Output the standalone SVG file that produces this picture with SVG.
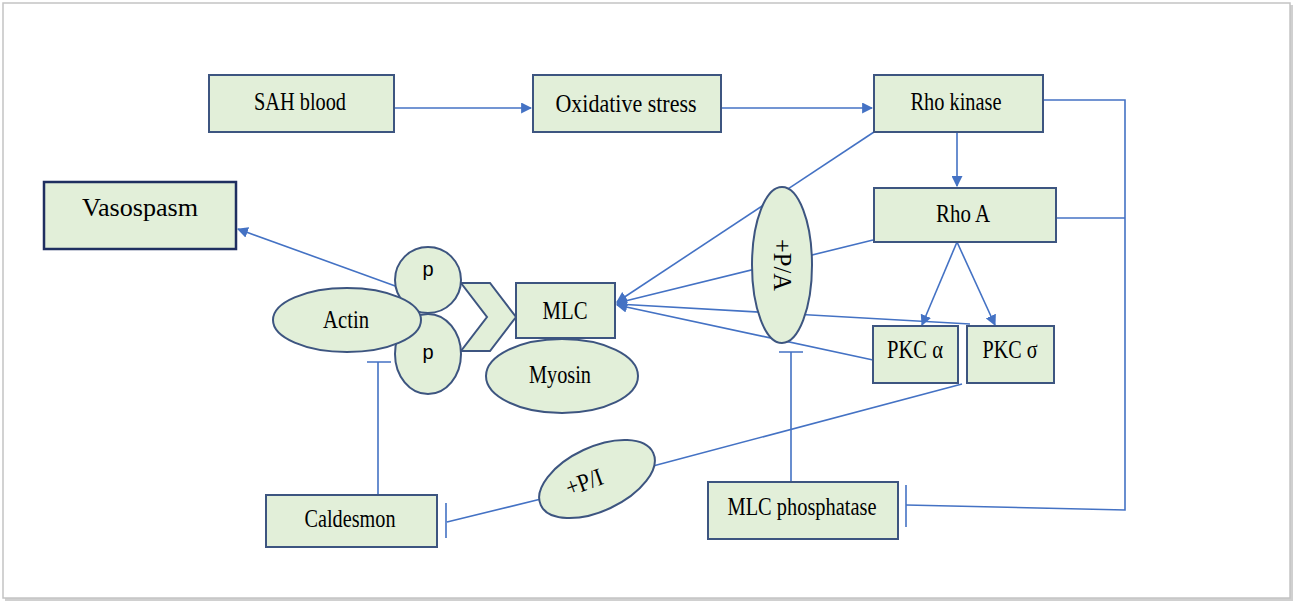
<svg xmlns="http://www.w3.org/2000/svg" width="1296" height="603" viewBox="0 0 1296 603">
<defs>
<style>
.box{fill:#e2efd9;stroke:#3d5580;stroke-width:2}
.ell{fill:#e2efd9;stroke:#3d5580;stroke-width:2}
.t{font-family:"Liberation Serif","Times New Roman",serif;font-size:25px;fill:#000;text-anchor:middle}
.ts{font-family:"Liberation Sans",Arial,sans-serif;font-size:20px;fill:#000;text-anchor:middle}
.c{fill:none;stroke:#4472c4;stroke-width:1.6}
</style>
<marker id="ah" viewBox="0 0 10 10" refX="9" refY="5" markerWidth="11" markerHeight="11" markerUnits="userSpaceOnUse" orient="auto">
<path d="M0,0 L10,5 L0,10 z" fill="#4472c4"/>
</marker>
</defs>
<rect x="0" y="0" width="1296" height="603" fill="#ffffff"/>
<rect x="5" y="5" width="1288" height="596" fill="#d0d0d0"/>
<rect x="3" y="3" width="1287" height="595" fill="#ffffff" stroke="#c4c4c4" stroke-width="1.5"/>

<g id="connectors">
<path class="c" d="M394,108 L531,108" marker-end="url(#ah)"/>
<path class="c" d="M721,108 L872,108" marker-end="url(#ah)"/>
<path class="c" d="M957,132 L957,186" marker-end="url(#ah)"/>
<path class="c" d="M957,242 L922,325" marker-end="url(#ah)"/>
<path class="c" d="M957,242 L995,325" marker-end="url(#ah)"/>
<path class="c" d="M874,132 L617,302" marker-end="url(#ah)"/>
<path class="c" d="M873,240 L617,303" marker-end="url(#ah)"/>
<path class="c" d="M970,324 L617,304" marker-end="url(#ah)"/>
<path class="c" d="M873,360 L617,305" marker-end="url(#ah)"/>
<path class="c" d="M398,287 L238,229" marker-end="url(#ah)"/>
<path class="c" d="M1043,100 L1125,100 L1125,510 L906,505"/>
<path class="c" d="M1057,218 L1125,218"/>
<path class="c" d="M906,485 L906,527"/>
<path class="c" d="M378,495 L378,362 M367,362 L391,362"/>
<path class="c" d="M541,499 L447,522 M446,503 L446,538"/>
<path class="c" d="M962,384 L653,466"/>
<path class="c" d="M791,482 L791,352 M779,352 L803,352"/>
</g>

<g id="sah"><rect class="box" x="209" y="75" width="185" height="57"/><text class="t" x="300" y="110" textLength="92" lengthAdjust="spacingAndGlyphs">SAH blood</text></g>
<g id="oxidative"><rect class="box" x="533" y="75" width="188" height="57"/><text class="t" x="626" y="112" textLength="141" lengthAdjust="spacingAndGlyphs">Oxidative stress</text></g>
<g id="rhokinase"><rect class="box" x="874" y="75" width="169" height="57"/><text class="t" x="956" y="110" textLength="91" lengthAdjust="spacingAndGlyphs">Rho kinase</text></g>
<g id="rhoa"><rect class="box" x="874" y="188" width="182" height="54"/><text class="t" x="963" y="222" textLength="54" lengthAdjust="spacingAndGlyphs">Rho A</text></g>
<g id="vasospasm"><rect x="44" y="182" width="192" height="67" fill="#e2efd9" stroke="#1f2f60" stroke-width="2.5"/><text class="t" x="140" y="216" textLength="116" lengthAdjust="spacingAndGlyphs">Vasospasm</text></g>
<g id="chevron"><polygon points="461,283 490,283 516,317 490,351 461,351 487,317" fill="#e2efd9" stroke="#3d5580" stroke-width="2"/></g>
<g id="mlc"><rect class="box" x="516" y="283" width="99" height="55"/><text class="t" x="565" y="319" textLength="45" lengthAdjust="spacingAndGlyphs">MLC</text></g>
<g id="myosin"><ellipse class="ell" cx="562" cy="376" rx="76" ry="37"/><text class="t" x="560" y="383" textLength="62" lengthAdjust="spacingAndGlyphs">Myosin</text></g>
<g id="p1"><ellipse class="ell" cx="428" cy="280" rx="33" ry="33"/><text class="ts" x="428" y="276">p</text></g>
<g id="p2"><ellipse class="ell" cx="428" cy="354" rx="33" ry="40"/><text class="ts" x="428" y="359">p</text></g>
<g id="actin"><ellipse class="ell" cx="347" cy="320" rx="74" ry="32"/><text class="t" x="346" y="328" textLength="46" lengthAdjust="spacingAndGlyphs">Actin</text></g>
<g id="pa"><ellipse class="ell" cx="782" cy="265" rx="30" ry="78"/><text class="t" transform="translate(774,265) rotate(90)" x="0" y="0" textLength="52" lengthAdjust="spacingAndGlyphs">+P/A</text></g>
<g id="pkca"><rect class="box" x="873" y="326" width="85" height="57"/><text class="t" x="915" y="358" textLength="56" lengthAdjust="spacingAndGlyphs">PKC α</text></g>
<g id="pkcs"><rect class="box" x="967" y="326" width="87" height="57"/><text class="t" x="1010" y="358" textLength="55" lengthAdjust="spacingAndGlyphs">PKC σ</text></g>
<g id="pi"><ellipse class="ell" cx="597" cy="479" rx="62" ry="32" transform="rotate(-25 597 479)"/><text class="t" transform="translate(587,490) rotate(-20)" x="0" y="0" textLength="38" lengthAdjust="spacingAndGlyphs">+P/I</text></g>
<g id="caldesmon"><rect class="box" x="266" y="495" width="171" height="52"/><text class="t" x="350" y="527" textLength="91" lengthAdjust="spacingAndGlyphs">Caldesmon</text></g>
<g id="mlcp"><rect class="box" x="708" y="482" width="190" height="57"/><text class="t" x="802" y="515" textLength="149" lengthAdjust="spacingAndGlyphs">MLC phosphatase</text></g>
</svg>
